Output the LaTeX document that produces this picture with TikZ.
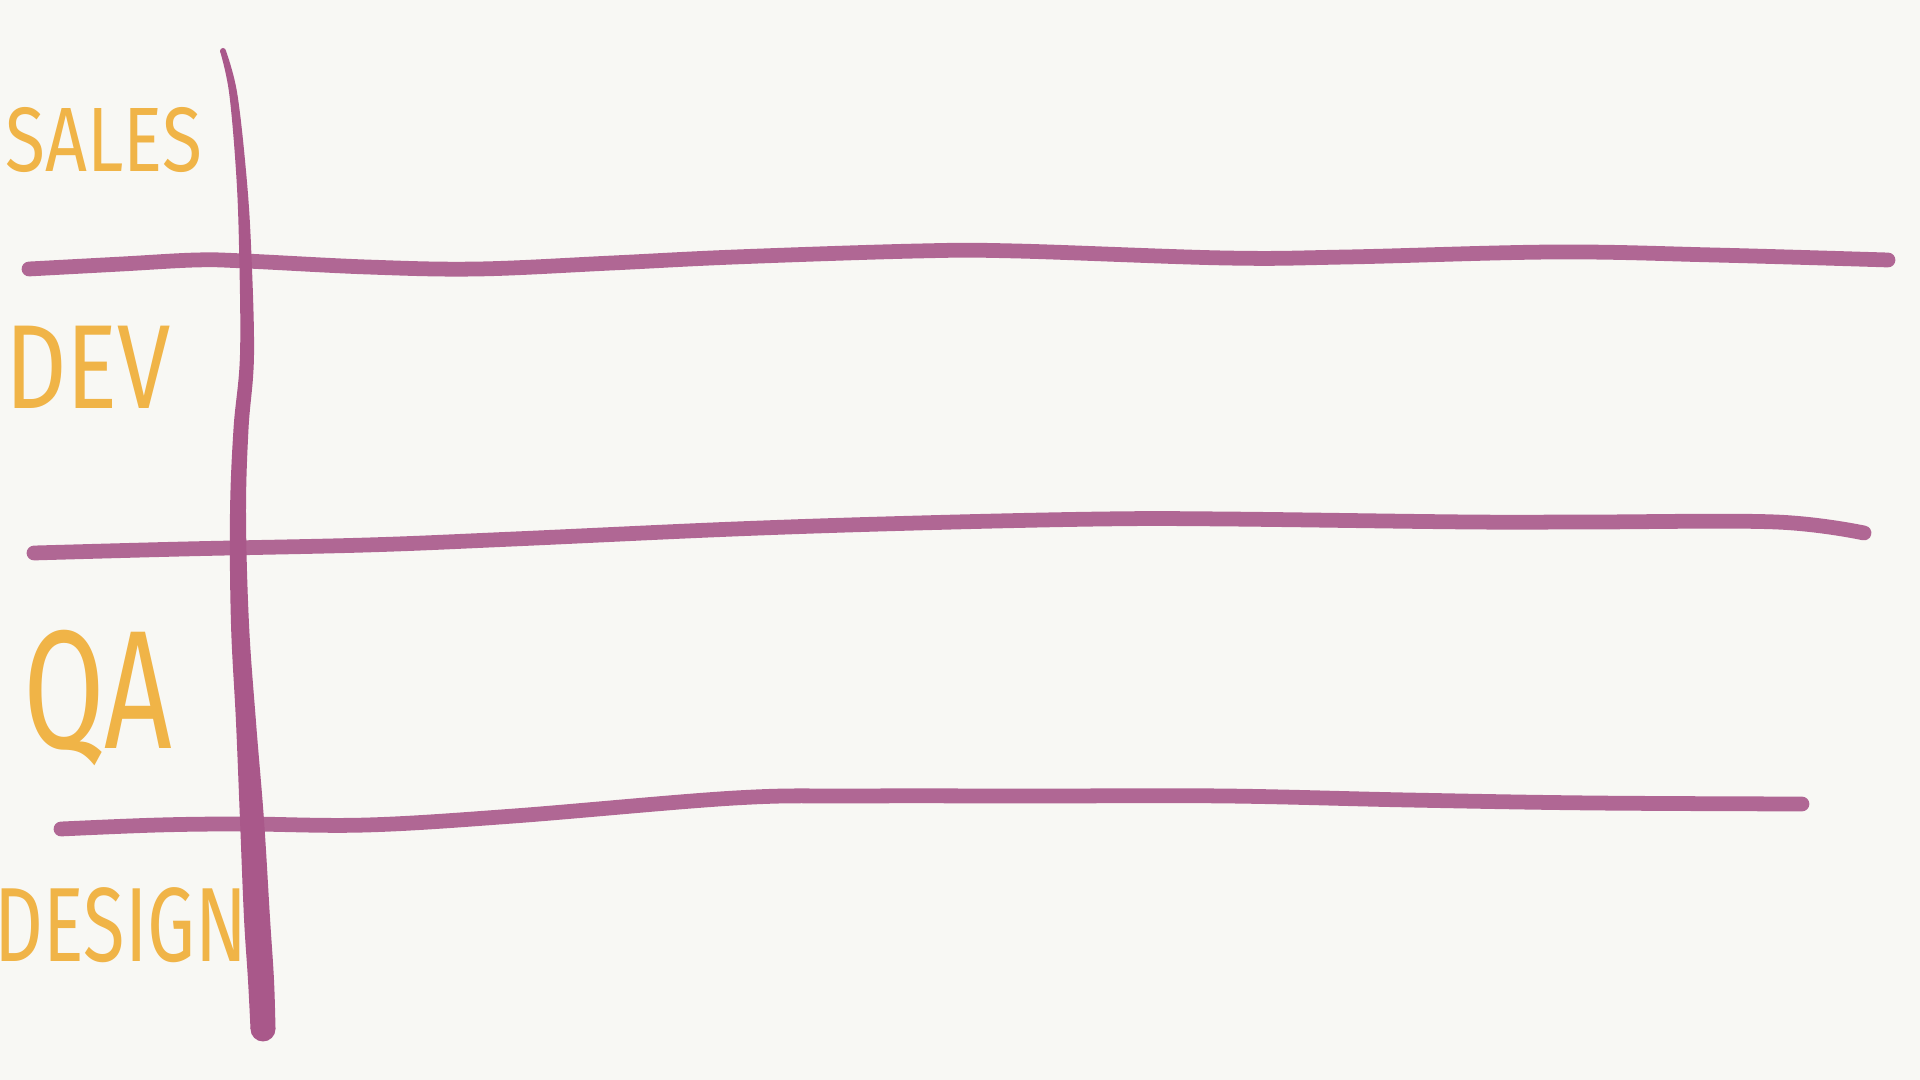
\documentclass[tikz,border=0pt]{standalone}
\usepackage{fontspec}
\setmainfont{Fira Sans}
\definecolor{paper}{HTML}{F8F8F4}
\definecolor{lanepurple}{HTML}{A9588A}
\definecolor{markerorange}{HTML}{F0B447}
\tikzset{
  lane/.style={line width=4.2pt, lanepurple, opacity=0.9, line cap=round, line join=round},
  divider/.style={fill=lanepurple},
  lanelabel/.style={markerorange, inner sep=0pt, transform shape}
}
\begin{document}
\begin{tikzpicture}[x=0.01cm, y=-0.01cm]
\fill[paper] (0,0) rectangle (1920,1080);
\useasboundingbox (0,0) rectangle (1920,1080);
% header column, a marker stroke that gets wider towards the bottom
\fill[divider] plot[smooth, tension=0.6] coordinates {(226,51) (237,92) (246,171) (251,245) (254,355) (248.5,429) (246,514) (249,624) (256,722) (264,820) (270,918) (274,980) (275.5,1029)}
  -- plot[smooth, tension=0.6] coordinates {(250.5,1029) (248,980) (244,918) (240,820) (236,722) (231,624) (230,514) (233.5,429) (240,355) (239,245) (236,171) (229,92) (220,51)} -- cycle;
\fill[divider] (263,1029) circle[radius=12.5];
\fill[divider] (223,51) circle[radius=3];
% lane separators
\draw[lane] plot[smooth, tension=0.6] coordinates {(29,269) (122,264) (196,260) (245,261) (367,267) (478,269) (612,263) (735,257) (918,251) (1016,251) (1225,258) (1347,257) (1555,252) (1714,255) (1888,260)};
\draw[lane] plot[smooth, tension=0.6] coordinates {(34,553) (184,549) (367,545) (514,539) (735,529) (918,523) (1102,519) (1225,519) (1469,522) (1592,522) (1776,522) (1864,533)};
\draw[lane] plot[smooth, tension=0.6] coordinates {(61,829) (159,825) (245,824) (367,825) (514,816) (735,798) (857,796) (1041,796) (1225,796) (1408,800) (1592,803) (1802,804)};
% lane names
\node[lanelabel, font=\fontsize{26}{30}\selectfont, xscale=0.8] (sales) at (104,140) {SALES};
\node[lanelabel, font=\fontsize{34}{40}\selectfont, xscale=0.8] (dev) at (88,367) {DEV};
\node[lanelabel, font=\fontsize{48}{56}\selectfont, xscale=0.7] (qa) at (98,698) {QA};
\node[lanelabel, font=\fontsize{30}{36}\selectfont, xscale=0.72] (design) at (121,925) {DESIGN};
\end{tikzpicture}
\end{document}
